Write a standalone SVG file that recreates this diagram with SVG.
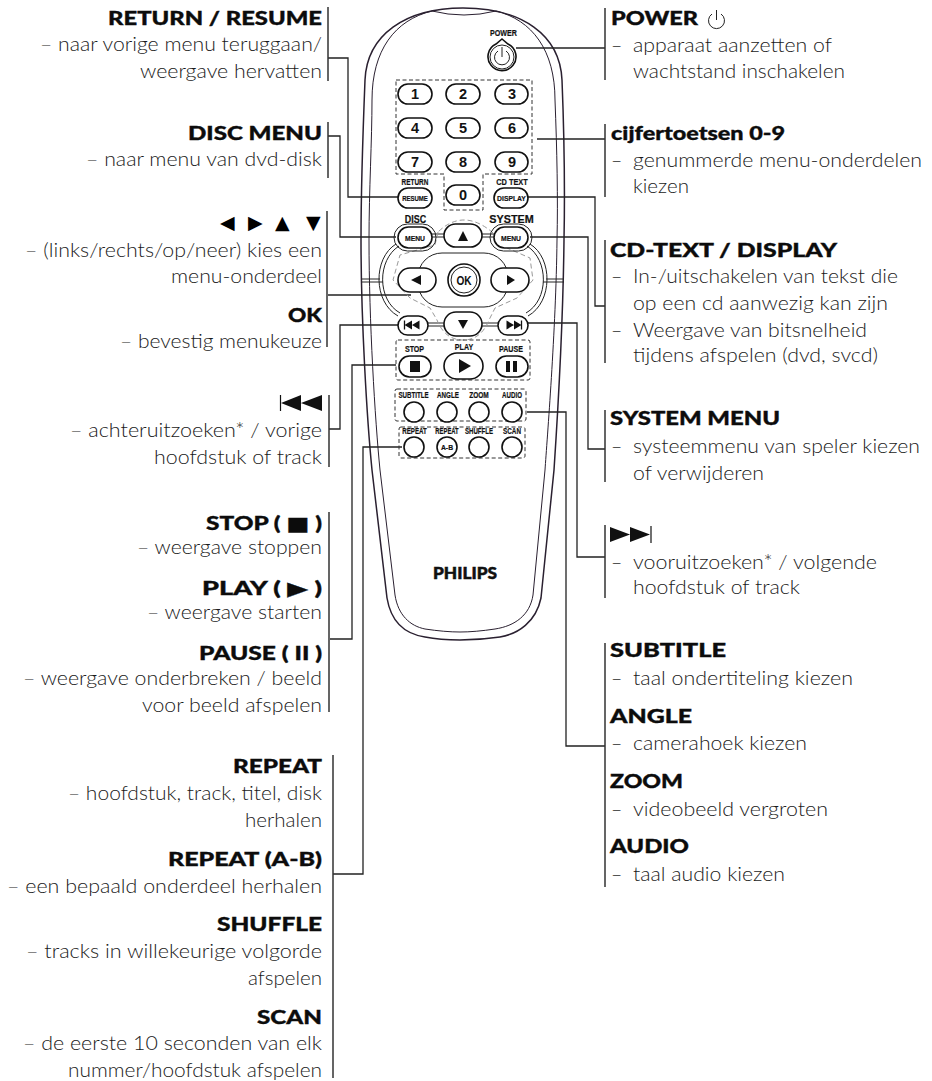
<svg xmlns="http://www.w3.org/2000/svg" width="932" height="1081" viewBox="0 0 932 1081">
<style>
text{font-family:"Lato","Open Sans","DejaVu Sans",sans-serif}
.t{font-size:19px;font-weight:900;fill:#0c0c0c;stroke:#0c0c0c;stroke-width:.35}
.d{font-size:19.5px;font-weight:300;fill:#1a1a1a}
.e{text-anchor:end}
.sym{font-family:"DejaVu Sans",sans-serif;font-size:19px;fill:#000}
.bar{stroke:#333;stroke-width:1.5;fill:none}
.con{stroke:#222;stroke-width:1.3;fill:none}
.body{stroke:#2a2030;fill:none}
.dash{stroke:#333;stroke-width:1;stroke-dasharray:4 2.5;fill:none}
.gdash{stroke:#999;stroke-width:1;stroke-dasharray:5 3;fill:none}
.btn{fill:#fff;stroke:#111;stroke-width:1.6}
.thin{fill:none;stroke:#222;stroke-width:1}
.lb{font-family:"Liberation Sans",Arial,sans-serif;font-weight:700;font-size:9.5px;text-anchor:middle;fill:#111;stroke:#111;stroke-width:.2}
.lbs{font-family:"Liberation Sans",Arial,sans-serif;font-weight:700;font-size:8px;text-anchor:middle;fill:#111;stroke:#111;stroke-width:.2}
.dig{font-family:"Liberation Sans",Arial,sans-serif;font-weight:700;font-size:14.5px;text-anchor:middle;fill:#111}
.ic{fill:#111}
</style>

<g id="remote-body">
<path class="body" stroke-width="1.5" d="M365 80C367 35 405 8 463 8C522 8 560 35 562 80C564 130 565 190 564 240C563 330 556 440 554 470L541 598C536 622 518 634 500 637Q480 640 460 640Q440 640 425 637C405 634 391 622 387 598L372 470C367 420 361 320 361 240C361 190 363 130 365 80Z"/>
<path class="body" stroke-width="1" d="M372 100C372 50 395 20 432 11Q464 19 496 11C532 20 555 50 555 100C557 150 558 200 557 240C556 330 547 440 545 470L533 595C530 615 515 626 495 629Q475 632 460 632Q445 632 425 629C410 626 398 615 395 595L380 470C375 420 369 320 369 240C369 190 372 140 372 100Z"/>
<text x="465" y="579" text-anchor="middle" textLength="64" lengthAdjust="spacingAndGlyphs" style="font-family:'Lato',sans-serif;font-weight:900;font-size:16.5px;fill:#111;stroke:#111;stroke-width:.5">PHILIPS</text>
</g>

<g id="connectors">
<path class="con" d="M328 58H348V197H399"/>
<path class="con" d="M328 136H340V237H396"/>
<path class="con" d="M328 295H411"/>
<path class="con" d="M329 429H340V325H399"/>
<path class="con" d="M330 639H352V365H396"/>
<path class="con" d="M333 874H363V447H402"/>
<path class="con" d="M516 48H605"/>
<path class="con" d="M537 139H605"/>
<path class="con" d="M527 197H595V306H605"/>
<path class="con" d="M530 237H588V449H605"/>
<path class="con" d="M528 323H577V557H605"/>
<path class="con" d="M527 412H566V746H605"/>
</g>

<g id="label-bars">
<path class="bar" d="M328 7V81M328 122V178M327 211V347M329 395V467M329 512V712M333 755V1078M605 8V80M605 124V197M605 240V363M605 410V482M605 525V598M605 643V887"/>
</g>

<g id="btn-power">
<text class="lb" transform="translate(503.500 36) scale(.75 1)">POWER</text>
<path class="btn" d="M502 39L508 44A14 14 0 1 1 496 44Z"/>
<circle class="thin" cx="502" cy="57" r="12"/>
<path class="thin" stroke-width="1.200" d="M498 51A7.500 7.500 0 1 0 506 51M502 47V57"/>
</g>

<g id="numpad">
<path class="dash" d="M396 80H532V174H483V210H444V174H396Z"/>
<rect class="btn" x="398" y="84" width="34" height="20" rx="10"/><text class="dig" x="415" y="99">1</text>
<rect class="btn" x="446" y="84" width="34" height="20" rx="10"/><text class="dig" x="463" y="99">2</text>
<rect class="btn" x="495" y="84" width="33" height="20" rx="10"/><text class="dig" x="512" y="99">3</text>
<rect class="btn" x="398" y="118" width="34" height="20" rx="10"/><text class="dig" x="415" y="133">4</text>
<rect class="btn" x="446" y="118" width="34" height="20" rx="10"/><text class="dig" x="463" y="133">5</text>
<rect class="btn" x="495" y="118" width="33" height="20" rx="10"/><text class="dig" x="512" y="133">6</text>
<rect class="btn" x="398" y="152" width="34" height="20" rx="10"/><text class="dig" x="415" y="167">7</text>
<rect class="btn" x="446" y="152" width="34" height="20" rx="10"/><text class="dig" x="463" y="167">8</text>
<rect class="btn" x="495" y="152" width="33" height="20" rx="10"/><text class="dig" x="512" y="167">9</text>
<rect class="btn" x="446" y="185" width="34" height="20" rx="10"/><text class="dig" x="463" y="200">0</text>
</g>

<g id="btn-resume">
<text class="lb" transform="translate(415 185) scale(.68 1)">RETURN</text>
<rect class="btn" x="398" y="188" width="34" height="20" rx="10"/>
<text class="lbs" transform="translate(415 200.500) scale(.75 1)">RESUME</text>
</g>
<g id="btn-display">
<text class="lb" transform="translate(512 185) scale(.78 1)">CD TEXT</text>
<rect class="btn" x="494" y="188" width="34" height="20" rx="10"/>
<text class="lbs" transform="translate(511.500 200.500) scale(.85 1)">DISPLAY</text>
</g>

<g id="nav-cluster">
<path class="thin" d="M396 244C373 258 373 302 398 316M399 246C377 260 377 300 400 313M530 244C553 258 553 302 528 316M527 246C549 260 549 300 526 313"/>
<path class="thin" d="M362 279H380M362 282H383M546 279H564M543 282H564M432 234H444M432 237H444M482 234H494M482 237H494M428 323H444M428 326H444M482 323H498M482 326H498"/>
<rect class="thin" x="418" y="253" width="90" height="54" rx="24"/>
<path class="gdash" d="M438 232L435 245L400 255L393 280L410 298L430 308L437 320Q445 340 463 340Q481 340 489 320L495 308L517 298L533 280L530 258L507 248L492 232Q463 208 438 232Z"/>
</g>

<g id="btn-disc-menu">
<text class="lb" transform="translate(415.500 223) scale(.85 1)" style="font-size:10.500px">DISC</text>
<rect class="thin" x="394" y="224" width="42" height="27" rx="13.500"/>
<rect class="btn" x="398" y="227" width="34" height="21" rx="10.500"/>
<text class="lbs" transform="translate(415 240.500) scale(.85 1)">MENU</text>
</g>
<g id="btn-system-menu">
<text class="lb" transform="translate(511.500 223) scale(1.030 1)" style="font-size:10.500px">SYSTEM</text>
<rect class="thin" x="490" y="224" width="42" height="27" rx="13.500"/>
<rect class="btn" x="494" y="227" width="34" height="21" rx="10.500"/>
<text class="lbs" transform="translate(511 240.500) scale(.85 1)">MENU</text>
</g>
<g id="btn-up"><rect class="btn" x="444" y="224" width="38" height="23" rx="11.500"/><path class="ic" d="M463 231L468 241H458Z"/></g>
<g id="btn-left"><rect class="btn" x="398" y="268" width="38" height="24" rx="12"/><path class="ic" d="M411 280L421 275V285Z"/></g>
<g id="btn-right"><rect class="btn" x="491" y="268" width="38" height="24" rx="12"/><path class="ic" d="M515 280L507 275V285Z"/></g>
<g id="btn-ok"><circle class="btn" cx="464" cy="280" r="16"/><circle class="thin" cx="464" cy="280" r="13" stroke-width="1.300"/><text class="dig" transform="translate(464 285) scale(.75 1)" style="font-size:13.500px">OK</text></g>
<g id="btn-down"><rect class="btn" x="444" y="312" width="38" height="24" rx="12"/><path class="ic" d="M463 329L468 320H458Z"/></g>
<g id="btn-prev"><rect class="btn" x="398" y="316" width="30" height="19" rx="9.500"/><path class="ic" d="M404.500 325L412 320.500V329.500ZM412 325L419.500 320.500V329.500Z"/><path d="M404.500 320.500V329.500" stroke="#111" stroke-width="1.300"/></g>
<g id="btn-next"><rect class="btn" x="498" y="316" width="30" height="19" rx="9.500"/><path class="ic" d="M521.500 325L514 320.500V329.500ZM514 325L506.500 320.500V329.500Z"/><path d="M521.500 320.500V329.500" stroke="#111" stroke-width="1.300"/></g>

<g id="transport">
<rect class="dash" x="396" y="340" width="134" height="40" rx="2"/>
<text class="lb" transform="translate(414.500 352) scale(.75 1)">STOP</text>
<text class="lb" transform="translate(464 350) scale(.75 1)">PLAY</text>
<text class="lb" transform="translate(511 352) scale(.75 1)">PAUSE</text>
<rect class="btn" x="399" y="356" width="32" height="21" rx="10.500" stroke-width="2"/><rect class="ic" x="410" y="361" width="10" height="11"/>
<rect class="btn" x="444" y="353" width="39" height="26" rx="13" stroke-width="2"/><path class="ic" d="M459 359L471 366L459 373Z"/>
<rect class="btn" x="496" y="356" width="32" height="21" rx="10.500" stroke-width="2"/><path class="ic" d="M506 361H510V372H506ZM513 361H517V372H513Z"/>
</g>

<g id="sub-keys">
<rect class="dash" x="395" y="389" width="131" height="32" rx="2"/>
<text class="lb" transform="translate(413.500 398) scale(.65 1)">SUBTITLE</text>
<text class="lb" transform="translate(448 398) scale(.66 1)">ANGLE</text>
<text class="lb" transform="translate(479 398) scale(.69 1)">ZOOM</text>
<text class="lb" transform="translate(512 398) scale(.65 1)">AUDIO</text>
<circle class="btn" cx="414" cy="412" r="10"/><circle class="btn" cx="447" cy="412" r="10"/><circle class="btn" cx="479" cy="412" r="10"/><circle class="btn" cx="512" cy="412" r="10"/>
</g>
<g id="repeat-keys">
<rect class="dash" x="399" y="427" width="126" height="31" rx="2"/>
<text class="lb" transform="translate(414.500 434) scale(.65 1)">REPEAT</text>
<text class="lb" transform="translate(447 434) scale(.62 1)">REPEAT</text>
<text class="lb" transform="translate(479 434) scale(.64 1)">SHUFFLE</text>
<text class="lb" transform="translate(512 434) scale(.67 1)">SCAN</text>
<circle class="btn" cx="414" cy="447" r="10"/><circle class="btn" cx="447" cy="447" r="10"/><circle class="btn" cx="479" cy="447" r="10"/><circle class="btn" cx="512" cy="447" r="10"/>
<text class="lbs" transform="translate(447 450) scale(.85 1)">A-B</text>
</g>

<g id="label-return">
<text class="t e" lengthAdjust="spacingAndGlyphs" x="322" y="25" textLength="214">RETURN / RESUME</text>
<text class="d e" lengthAdjust="spacingAndGlyphs" x="322" y="51" textLength="282">– naar vorige menu teruggaan/</text>
<text class="d e" lengthAdjust="spacingAndGlyphs" x="322" y="78" textLength="182">weergave hervatten</text>
</g>
<g id="label-disc">
<text class="t e" lengthAdjust="spacingAndGlyphs" x="322" y="140" textLength="134">DISC MENU</text>
<text class="d e" lengthAdjust="spacingAndGlyphs" x="322" y="166" textLength="236">– naar menu van dvd-disk</text>
</g>
<g id="label-arrows">
<text class="sym" x="220 248 275 306" y="229">◀▶▲▼</text>
<text class="d e" lengthAdjust="spacingAndGlyphs" x="322" y="257" textLength="297">– (links/rechts/op/neer) kies een</text>
<text class="d e" lengthAdjust="spacingAndGlyphs" x="322" y="283" textLength="151">menu-onderdeel</text>
<text class="t e" lengthAdjust="spacingAndGlyphs" x="322" y="322" textLength="34">OK</text>
<text class="d e" lengthAdjust="spacingAndGlyphs" x="322" y="348" textLength="202">– bevestig menukeuze</text>
</g>
<g id="label-prev">
<path class="ic" d="M301 403L322 395V411ZM281 403L301 395V411Z"/><path d="M280.500 395V411" stroke="#111" stroke-width="1.200"/>
<text class="d e" lengthAdjust="spacingAndGlyphs" x="322" y="437" textLength="252">– achteruitzoeken* / vorige</text>
<text class="d e" lengthAdjust="spacingAndGlyphs" x="322" y="464" textLength="168">hoofdstuk of track</text>
</g>
<g id="label-transport">
<text class="t e" lengthAdjust="spacingAndGlyphs" x="322" y="530" textLength="116">STOP ( ■ )</text>
<text class="d e" lengthAdjust="spacingAndGlyphs" x="322" y="554" textLength="185">– weergave stoppen</text>
<text class="t e" lengthAdjust="spacingAndGlyphs" x="322" y="595" textLength="120">PLAY ( ▶ )</text>
<text class="d e" lengthAdjust="spacingAndGlyphs" x="322" y="619" textLength="175">– weergave starten</text>
<text class="t e" lengthAdjust="spacingAndGlyphs" x="322" y="660" textLength="123">PAUSE ( II )</text>
<text class="d e" lengthAdjust="spacingAndGlyphs" x="322" y="685" textLength="299">– weergave onderbreken / beeld</text>
<text class="d e" lengthAdjust="spacingAndGlyphs" x="322" y="712" textLength="180">voor beeld afspelen</text>
</g>
<g id="label-repeat">
<text class="t e" lengthAdjust="spacingAndGlyphs" x="322" y="773" textLength="89">REPEAT</text>
<text class="d e" lengthAdjust="spacingAndGlyphs" x="322" y="800" textLength="254">– hoofdstuk, track, titel, disk</text>
<text class="d e" lengthAdjust="spacingAndGlyphs" x="322" y="827" textLength="77">herhalen</text>
<text class="t e" lengthAdjust="spacingAndGlyphs" x="322" y="866" textLength="154">REPEAT (A-B)</text>
<text class="d e" lengthAdjust="spacingAndGlyphs" x="322" y="893" textLength="315">– een bepaald onderdeel herhalen</text>
<text class="t e" lengthAdjust="spacingAndGlyphs" x="322" y="931" textLength="105">SHUFFLE</text>
<text class="d e" lengthAdjust="spacingAndGlyphs" x="322" y="958" textLength="296">– tracks in willekeurige volgorde</text>
<text class="d e" lengthAdjust="spacingAndGlyphs" x="322" y="985" textLength="74">afspelen</text>
<text class="t e" lengthAdjust="spacingAndGlyphs" x="322" y="1024" textLength="65">SCAN</text>
<text class="d e" lengthAdjust="spacingAndGlyphs" x="322" y="1050" textLength="299">– de eerste 10 seconden van elk</text>
<text class="d e" lengthAdjust="spacingAndGlyphs" x="322" y="1077" textLength="254">nummer/hoofdstuk afspelen</text>
</g>

<g id="label-power">
<text class="t" lengthAdjust="spacingAndGlyphs" x="611" y="25" textLength="87">POWER</text>
<path class="thin" stroke-width="1.500" d="M712 14A8 8 0 1 0 721 14M716.500 10V20" stroke="#111"/>
<text class="d" x="611" y="52">–</text><text class="d" lengthAdjust="spacingAndGlyphs" x="633" y="52" textLength="199">apparaat aanzetten of</text>
<text class="d" lengthAdjust="spacingAndGlyphs" x="633" y="78" textLength="212">wachtstand inschakelen</text>
</g>
<g id="label-digits">
<text class="t" lengthAdjust="spacingAndGlyphs" x="611" y="140" textLength="174">cijfertoetsen 0-9</text>
<text class="d" x="611" y="167">–</text><text class="d" lengthAdjust="spacingAndGlyphs" x="633" y="167" textLength="289">genummerde menu-onderdelen</text>
<text class="d" lengthAdjust="spacingAndGlyphs" x="633" y="193" textLength="56">kiezen</text>
</g>
<g id="label-cdtext">
<text class="t" lengthAdjust="spacingAndGlyphs" x="610" y="257" textLength="227">CD-TEXT / DISPLAY</text>
<text class="d" x="611" y="283">–</text><text class="d" lengthAdjust="spacingAndGlyphs" x="633" y="283" textLength="265">In-/uitschakelen van tekst die</text>
<text class="d" lengthAdjust="spacingAndGlyphs" x="633" y="310" textLength="255">op een cd aanwezig kan zijn</text>
<text class="d" x="611" y="337">–</text><text class="d" lengthAdjust="spacingAndGlyphs" x="633" y="337" textLength="234">Weergave van bitsnelheid</text>
<text class="d" lengthAdjust="spacingAndGlyphs" x="633" y="362" textLength="245">tijdens afspelen (dvd, svcd)</text>
</g>
<g id="label-system">
<text class="t" lengthAdjust="spacingAndGlyphs" x="610" y="425" textLength="170">SYSTEM MENU</text>
<text class="d" x="611" y="453">–</text><text class="d" lengthAdjust="spacingAndGlyphs" x="633" y="453" textLength="287">systeemmenu van speler kiezen</text>
<text class="d" lengthAdjust="spacingAndGlyphs" x="633" y="480" textLength="131">of verwijderen</text>
</g>
<g id="label-next">
<path class="ic" d="M610 527L630 534.500L610 542ZM630 527L650 534.500L630 542Z"/><path d="M651 526V543" stroke="#111" stroke-width="1.200"/>
<text class="d" x="611" y="569">–</text><text class="d" lengthAdjust="spacingAndGlyphs" x="633" y="569" textLength="244">vooruitzoeken* / volgende</text>
<text class="d" lengthAdjust="spacingAndGlyphs" x="633" y="594" textLength="167">hoofdstuk of track</text>
</g>
<g id="label-subtitle">
<text class="t" lengthAdjust="spacingAndGlyphs" x="610" y="657" textLength="116">SUBTITLE</text>
<text class="d" x="611" y="685">–</text><text class="d" lengthAdjust="spacingAndGlyphs" x="633" y="685" textLength="220">taal ondertiteling kiezen</text>
<text class="t" lengthAdjust="spacingAndGlyphs" x="610" y="723" textLength="82">ANGLE</text>
<text class="d" x="611" y="750">–</text><text class="d" lengthAdjust="spacingAndGlyphs" x="633" y="750" textLength="174">camerahoek kiezen</text>
<text class="t" lengthAdjust="spacingAndGlyphs" x="610" y="788" textLength="73">ZOOM</text>
<text class="d" x="611" y="816">–</text><text class="d" lengthAdjust="spacingAndGlyphs" x="633" y="816" textLength="195">videobeeld vergroten</text>
<text class="t" lengthAdjust="spacingAndGlyphs" x="610" y="853" textLength="79">AUDIO</text>
<text class="d" x="611" y="881">–</text><text class="d" lengthAdjust="spacingAndGlyphs" x="633" y="881" textLength="152">taal audio kiezen</text>
</g>
</svg>
